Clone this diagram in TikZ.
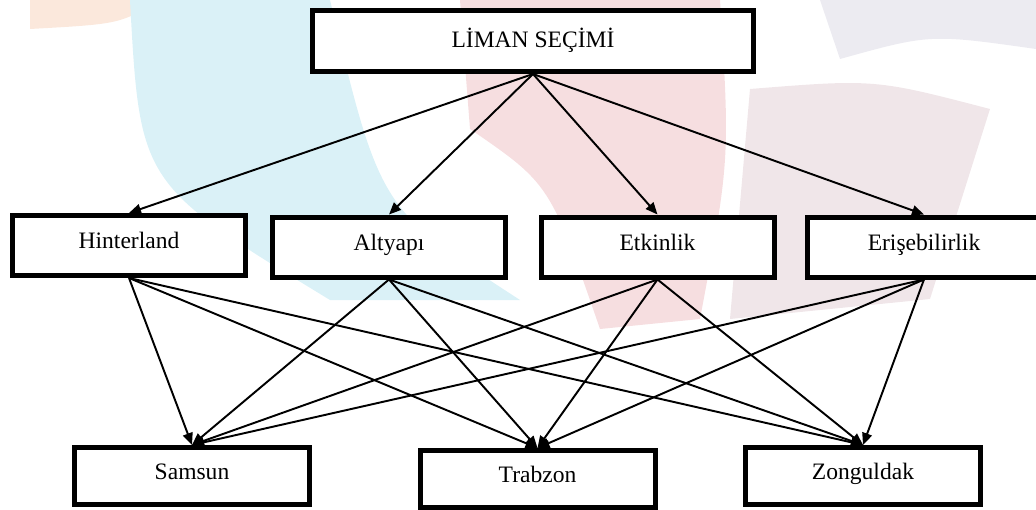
\documentclass[tikz,border=0pt]{standalone}
\usepackage{fontspec}
\setmainfont{Liberation Serif}
\usetikzlibrary{arrows.meta}

\definecolor{wmcyan}{RGB}{218,241,247}
\definecolor{wmpink}{RGB}{246,222,224}
\definecolor{wmrose}{RGB}{240,230,233}
\definecolor{wmgray}{RGB}{236,235,241}
\definecolor{wmorange}{RGB}{251,232,220}

\tikzset{
  box/.style={draw, line width=0.1cm, fill=white, minimum width=4.66cm,
    minimum height=1.2cm, text height=0.32cm, text depth=0.2cm,
    font=\fontsize{13.4}{16}\selectfont},
  link/.style={-{Triangle[length=2.4mm,width=2mm]}, line width=1.1pt},
}

\begin{document}
\begin{tikzpicture}
  \useasboundingbox (0,0) rectangle (20.72,10.18);

  % faint logo behind the chart
  \fill[wmorange] (0.6,10.18) -- (3.2,10.18) .. controls (2.4,9.7) .. (0.6,9.6) -- cycle;
  \fill[wmcyan] (2.6,10.18) .. controls (2.8,6.5) .. (6.6,4.18) -- (10.4,4.18) .. controls (7.6,6.0) .. (6.6,10.18) -- cycle;
  \fill[wmpink] (9.2,10.18) -- (14.4,10.18) .. controls (14.6,7) .. (14.0,3.8) -- (12.0,3.6) .. controls (11.0,6.5) .. (9.4,7.6) -- cycle;
  \fill[wmrose] (15.0,8.4) .. controls (17.5,8.6) .. (19.8,8.0) -- (18.6,4.2) -- (14.6,3.8) -- cycle;
  \fill[wmgray] (16.4,10.18) -- (20.72,10.18) -- (20.72,9.2) .. controls (18.6,9.5) .. (16.8,9.0) -- cycle;

  \node[box, minimum width=8.82cm, minimum height=1.22cm, text depth=0.08cm] (liman) at (10.66,9.36) {LİMAN SEÇİMİ};

  \node[box] (hint) at (2.58,5.27) {Hinterland};
  \node[box] (alt) at (7.78,5.24) {Altyapı};
  \node[box] (etk) at (13.15,5.24) {Etkinlik};
  \node[box] (eris) at (18.48,5.24) {Erişebilirlik};

  \node[box, minimum width=4.7cm, minimum height=1.14cm] (sam) at (3.84,0.66) {Samsun};
  \node[box, minimum width=4.7cm, minimum height=1.14cm] (trab) at (10.75,0.6) {Trabzon};
  \node[box, minimum width=4.7cm, minimum height=1.14cm] (zon) at (17.26,0.66) {Zonguldak};

  \foreach \c in {hint,alt,etk,eris}
    \draw[link] (liman.south) -- (\c.north);
  \foreach \c in {hint,alt,etk,eris}
    \foreach \l in {sam,trab,zon}
      \draw[link] (\c.south) -- (\l.north);
\end{tikzpicture}
\end{document}
